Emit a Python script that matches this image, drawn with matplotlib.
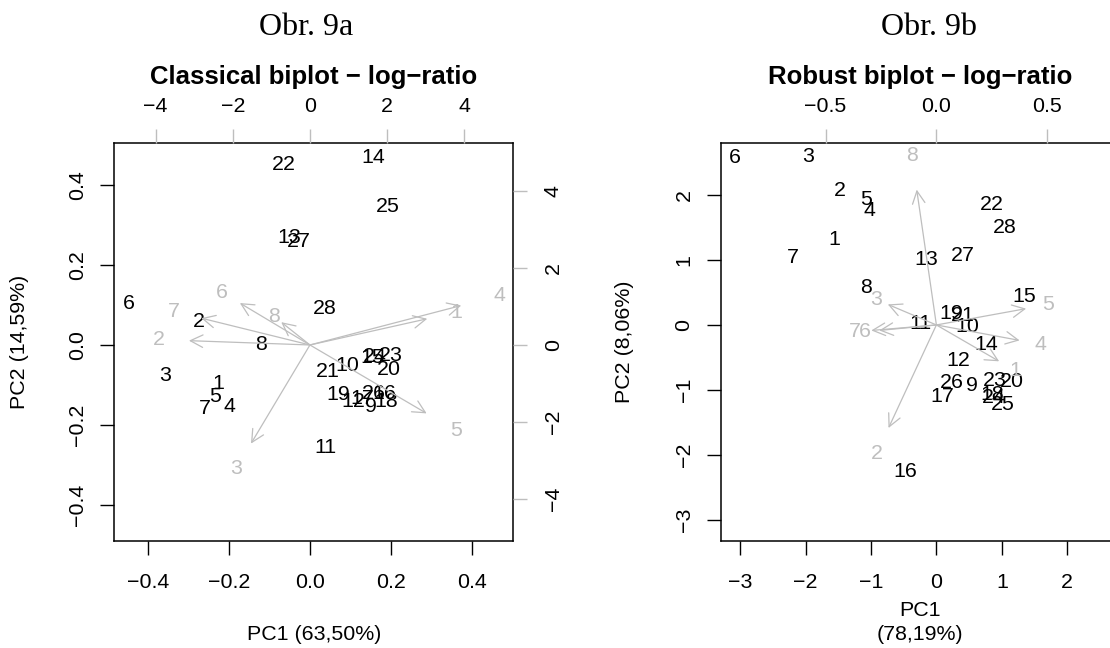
import numpy as np
import matplotlib
matplotlib.use('Agg')
import matplotlib.pyplot as plt

plt.rcParams['font.family'] = ['Liberation Sans', 'DejaVu Sans']

# observation scores, classical biplot (Obr. 9a)
obs = [str(i) for i in range(1, 29)]
pc1_a = [-0.228, -0.275, -0.358, -0.200, -0.235, -0.448, -0.260, -0.122, 0.149, 0.091,
         0.037, 0.107, -0.051, 0.155, 0.152, 0.182, 0.128, 0.186, 0.070, 0.194,
         0.043, -0.065, 0.199, 0.160, 0.192, 0.157, -0.029, 0.036]
pc2_a = [-0.095, 0.058, -0.075, -0.153, -0.129, 0.104, -0.158, 0.002, -0.153, -0.050,
         -0.257, -0.141, 0.268, 0.468, -0.030, -0.120, -0.133, -0.141, -0.124, -0.062,
         -0.066, 0.452, -0.025, -0.029, 0.346, -0.120, 0.259, 0.091]
# variable loadings, classical
var = [str(i) for i in range(1, 9)]
ld1_a = [3.80, -3.92, -1.91, 4.90, 3.78, -2.27, -3.52, -0.93]
ld2_a = [0.85, 0.14, -3.20, 1.28, -2.22, 1.36, 0.87, 0.74]

# observation scores, robust biplot (Obr. 9b)
pc1_b = [-1.56, -1.47, -1.97, -1.02, -1.07, -3.08, -2.19, -1.07, 0.55, 0.47,
         -0.24, 0.33, -0.15, 0.76, 1.35, -0.48, 0.09, 0.85, 0.22, 1.15,
         0.41, 0.85, 0.90, 0.87, 1.02, 0.23, 0.40, 1.05]
pc2_b = [1.31, 2.06, 2.59, 1.76, 1.92, 2.57, 1.03, 0.58, -0.93, -0.03,
         0.02, -0.55, 1.01, -0.30, 0.44, -2.25, -1.11, -1.07, 0.17, -0.87,
         0.14, 1.85, -0.86, -1.12, -1.22, -0.89, 1.07, 1.49]
ld1_b = [0.354, -0.270, -0.274, 0.469, 0.506, -0.322, -0.367, -0.111]
ld2_b = [-0.205, -0.581, 0.116, -0.087, 0.092, -0.031, -0.031, 0.763]

ticks_a = [-0.4, -0.2, 0.0, 0.2, 0.4]
ticks_a2 = [-4, -2, 0, 2, 4]
ticks_b = [-3, -2, -1, 0, 1, 2]
ticks_b2 = [-0.5, 0.0, 0.5]

W, H = 1110, 648
GRAY = '#bebebe'
FS = 15.4


def px_rect(x0, y0, x1, y1):
    return [x0 / W, 1 - y1 / H, (x1 - x0) / W, (y1 - y0) / H]


def fmt(ticks, nd):
    return [f'{t:.{nd}f}'.replace('-', '\u2212') for t in ticks]


def biplot(rect, sx, sy, lx, ly, lim, lim2, xt, yt, xt2, yt2, nd, nd2, title, ylab, ylab_x, right_labels=True):
    ax = fig.add_axes(rect)
    ax.set_xlim(lim[0])
    ax.set_ylim(lim[1])
    for x, y, s in zip(sx, sy, obs):
        ax.text(x, y, s, ha='center', va='center', fontsize=FS, color='black')
    ax.set_xticks(xt)
    ax.set_xticklabels(fmt(xt, nd))
    ax.set_yticks(yt)
    ax.set_yticklabels(fmt(yt, nd), rotation=90, va='center')
    ax.tick_params(axis='x', length=10, width=1, pad=13.5, labelsize=FS)
    ax.tick_params(axis='y', length=10, width=1, pad=9.5, labelsize=FS)
    for sp in ax.spines.values():
        sp.set_linewidth(1.1)

    # second axes for the variable arrows
    ax2 = fig.add_axes(rect, frameon=False)
    ax2.set_xlim(lim2[0])
    ax2.set_ylim(lim2[1])
    ax2.xaxis.tick_top()
    ax2.yaxis.tick_right()
    ax2.set_xticks(xt2)
    ax2.set_xticklabels(fmt(xt2, nd2))
    ax2.set_yticks(yt2)
    if right_labels:
        ax2.set_yticklabels(fmt(yt2, nd2), rotation=90, va='center')
    ax2.tick_params(axis='x', length=10, width=1, pad=9, labelsize=FS, color=GRAY)
    ax2.tick_params(axis='y', length=10, width=1, pad=12, labelsize=FS, color=GRAY,
                    labelright=right_labels)
    for x, y, s in zip(lx, ly, var):
        ax2.annotate('', xy=(0.8 * x, 0.8 * y), xytext=(0, 0),
                     arrowprops=dict(arrowstyle='->,head_length=0.9,head_width=0.45',
                                     color=GRAY, lw=0.9, shrinkA=0, shrinkB=0))
        ax2.text(x, y, s, ha='center', va='center', fontsize=FS, color=GRAY)

    cx = rect[0] + rect[2] / 2
    fig.text(cx, 1 - 84 / H, title, ha='center', va='baseline', fontsize=18.5, fontweight='bold')
    fig.text(ylab_x / W, rect[1] + rect[3] / 2, ylab, rotation=90, ha='center', va='center', fontsize=FS)
    return ax, cx


fig = plt.figure(figsize=(W / 100, H / 100), dpi=100)

ax_a, cx_a = biplot(px_rect(114.3, 142.7, 513.3, 540.7), pc1_a, pc2_a, ld1_a, ld2_a,
                    [(-0.484, 0.501), (-0.489, 0.506)], [(-5.07, 5.27), (-5.08, 5.25)],
                    ticks_a, ticks_a, ticks_a2, ticks_a2, 1, 0,
                    'Classical biplot \u2212 log\u2212ratio', 'PC2 (14,59%)', 20)
fig.text(cx_a, 1 - 635 / H, 'PC1 (63,50%)', ha='center', va='center', fontsize=FS)

# right panel runs past the page edge, as in the original
ax_b, cx_b = biplot(px_rect(720.7, 142.7, 1119.5, 540.7), pc1_b, pc2_b, ld1_b, ld2_b,
                    [(-3.30, 2.80), (-3.32, 2.80)], [(-0.973, 0.826), (-0.973, 0.822)],
                    ticks_b, ticks_b, ticks_b2, [-0.5, 0.0, 0.5], 0, 1,
                    'Robust biplot \u2212 log\u2212ratio', 'PC2 (8,06%)', 625, right_labels=False)
fig.text(cx_b, 1 - 610 / H, 'PC1', ha='center', va='center', fontsize=FS)
fig.text(cx_b, 1 - 635 / H, '(78,19%)', ha='center', va='center', fontsize=FS)

fig.text(306 / W, 1 - 35 / H, 'Obr. 9a', ha='center', va='baseline', fontsize=23, family='Liberation Serif')
fig.text(929 / W, 1 - 35 / H, 'Obr. 9b', ha='center', va='baseline', fontsize=23, family='Liberation Serif')

fig.savefig('out.png', dpi=100)
